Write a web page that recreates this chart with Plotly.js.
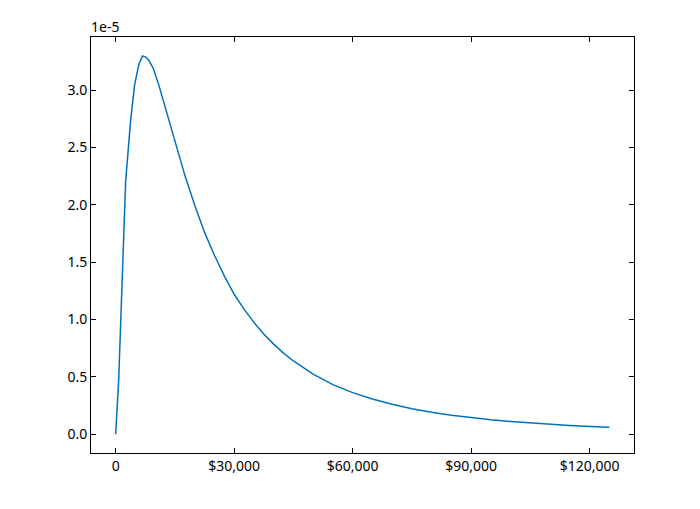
<!DOCTYPE html>
<html>
<head>
<meta charset="utf-8">
<script src="https://cdn.plot.ly/plotly-3.0.1.min.js"></script>
<style>html,body{margin:0;padding:0;background:#fff;}#chart{width:700px;height:509px;}</style>
</head>
<body>
<div id="chart"></div>
<script>
// Income (x, dollars) and density (y, in units of 1e-5)
const incomes = [0, 759, 2529, 3794, 4805, 5893, 6828, 7587, 8422, 9534, 10799, 12316, 13480, 15000, 17500, 20000, 22500, 25000, 27500, 30000, 32500, 35000, 37500, 40000, 42500, 45000, 47500, 50000, 55000, 60000, 65000, 70000, 75000, 80000, 85000, 90000, 95000, 100000, 105000, 110000, 115000, 120000, 125000];
const density = [0, 0.47, 2.21, 2.74, 3.05, 3.23, 3.30, 3.29, 3.26, 3.19, 3.06, 2.88, 2.74, 2.55, 2.26, 2.00, 1.76, 1.56, 1.38, 1.22, 1.09, 0.975, 0.873, 0.785, 0.707, 0.638, 0.578, 0.524, 0.432, 0.362, 0.306, 0.260, 0.222, 0.190, 0.165, 0.142, 0.125, 0.110, 0.097, 0.086, 0.075, 0.067, 0.060];
const xTickVals = [0, 30000, 60000, 90000, 120000];
const xTickText = ["0", "$30,000", "$60,000", "$90,000", "$120,000"];
const yTickVals = [0, 0.5, 1.0, 1.5, 2.0, 2.5, 3.0];
const yTickText = ["0.0", "0.5", "1.0", "1.5", "2.0", "2.5", "3.0"];
const yExponentLabel = "1e-5";

const font = {family: "Noto Sans, Open Sans, sans-serif", size: 14, color: "#000"};
const axisCommon = {
  showline: true, linecolor: "#000", linewidth: 1, mirror: "ticks",
  ticks: "inside", ticklen: 5, tickwidth: 1, tickcolor: "#000",
  showgrid: false, zeroline: false, tickfont: font, fixedrange: true
};
Plotly.newPlot("chart", [{
  x: incomes, y: density, type: "scatter", mode: "lines",
  line: {color: "#0072BD", width: 1.5, shape: "linear"}, hoverinfo: "skip"
}], {
  width: 700, height: 509,
  margin: {l: 91, r: 66, t: 37, b: 56},
  paper_bgcolor: "#fff", plot_bgcolor: "#fff",
  showlegend: false, font: font,
  xaxis: Object.assign({}, axisCommon, {range: [-6250, 131250], tickmode: "array", tickvals: xTickVals, ticktext: xTickText}),
  yaxis: Object.assign({}, axisCommon, {range: [-0.165, 3.465], tickmode: "array", tickvals: yTickVals, ticktext: yTickText}),
  annotations: [{text: yExponentLabel, xref: "paper", yref: "paper", x: 0, y: 1, xanchor: "left", yanchor: "bottom", showarrow: false, font: font, xshift: -2, yshift: -1}]
}, {staticPlot: true});
</script>
</body>
</html>
